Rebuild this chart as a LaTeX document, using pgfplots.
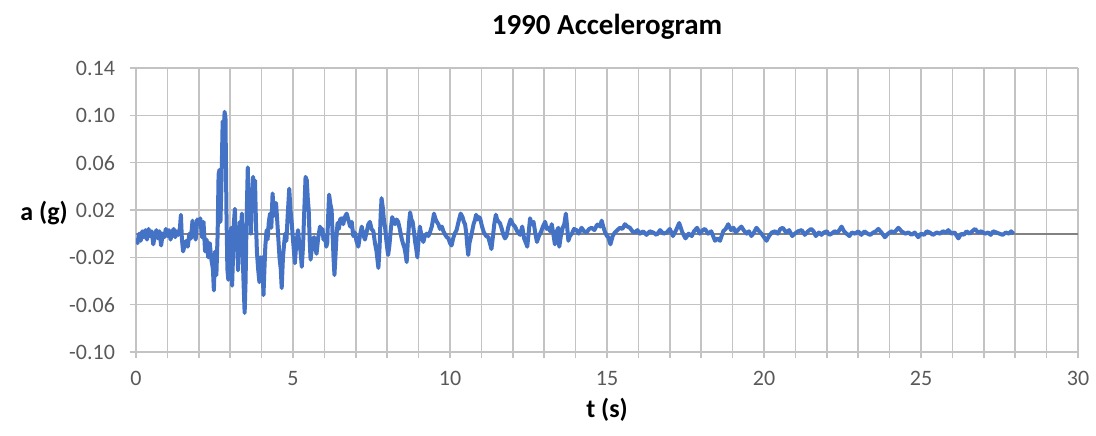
\documentclass[border=0pt]{standalone}
\usepackage{fontspec}
\setmainfont{Carlito}
\usepackage{pgfplots}
\pgfplotsset{compat=1.18}
\definecolor{wave}{RGB}{68,114,196}
\definecolor{gridc}{RGB}{195,195,195}
\definecolor{zeroc}{RGB}{130,130,130}
\definecolor{tickc}{RGB}{89,89,89}

\begin{document}
\begin{tikzpicture}
\begin{axis}[
  at={(0,0)}, anchor=south west,
  width=471pt, height=142pt, scale only axis,
  xmin=0, xmax=30, ymin=-0.10, ymax=0.14,
  xtick={0,5,10,15,20,25,30},
  minor xtick={0,1,...,30},
  ytick={-0.10,-0.06,-0.02,0.02,0.06,0.10,0.14},
  grid=both,
  major grid style={gridc, line width=0.8pt},
  minor grid style={gridc, line width=0.8pt},
  axis lines*=left,
  axis line style={gridc, line width=0.8pt},
  tick align=outside,
  major tick length=3pt, minor tick length=3pt,
  tick style={gridc, line width=0.8pt},
  /pgf/number format/assume math mode=true,
  yticklabel style={/pgf/number format/fixed, /pgf/number format/fixed zerofill,
    /pgf/number format/precision=2, font=\fontsize{11}{13}\selectfont, text=tickc, xshift=-4pt},
  xticklabel style={font=\fontsize{11}{13}\selectfont, text=tickc, yshift=-3pt},
  title={1990 Accelerogram},
  title style={font=\fontsize{14.5}{17}\selectfont\bfseries, at={(axis description cs:0.5,1)}, anchor=center, yshift=14.5pt},
  xlabel={t (s)},
  xlabel style={font=\fontsize{13}{15}\selectfont\bfseries, at={(axis description cs:0.5,0)}, anchor=center, yshift=-29pt},
  ylabel={a (g)},
  ylabel style={font=\fontsize{13}{15}\selectfont\bfseries, rotate=-90, at={(axis description cs:0,0.489)}, anchor=center, xshift=-46pt},
]
\addplot[zeroc, line width=0.9pt, forget plot] coordinates {(0,0) (30,0)};
\addplot[wave, line width=2pt, line join=round] coordinates {
(0.00,-0.004) (0.05,-0.008) (0.10,0.000) (0.15,-0.006) (0.20,0.002) (0.25,-0.003)
(0.30,0.003) (0.35,-0.005) (0.40,0.004) (0.45,-0.002) (0.50,0.002) (0.55,-0.009)
(0.60,-0.002) (0.65,0.003) (0.70,-0.004) (0.75,0.002) (0.80,-0.010) (0.85,0.000)
(0.90,-0.003) (0.95,0.004) (1.00,-0.002) (1.05,0.003) (1.10,-0.005) (1.15,0.001)
(1.20,0.004) (1.25,-0.003) (1.30,0.002) (1.35,-0.001) (1.40,0.005) (1.43,0.016)
(1.46,-0.004) (1.50,-0.015) (1.55,-0.010) (1.60,-0.006) (1.65,-0.011) (1.70,0.000)
(1.75,-0.004) (1.80,0.011) (1.85,0.002) (1.90,-0.005) (1.95,0.012) (2.00,0.008)
(2.05,0.013) (2.10,-0.003) (2.15,0.010) (2.20,-0.015) (2.25,-0.005) (2.30,-0.020)
(2.35,-0.008) (2.40,-0.022) (2.45,-0.030) (2.48,-0.048) (2.52,-0.015) (2.56,-0.035)
(2.60,0.000) (2.63,0.050) (2.66,0.054) (2.69,0.010) (2.72,0.040) (2.76,0.095)
(2.79,0.060) (2.82,0.103) (2.85,0.098) (2.88,0.020) (2.91,-0.030) (2.94,-0.039)
(2.97,-0.010) (3.00,-0.030) (3.03,0.005) (3.06,-0.044) (3.09,-0.020) (3.12,0.010)
(3.15,0.021) (3.18,-0.010) (3.21,0.005) (3.25,-0.031) (3.28,-0.005) (3.31,0.010)
(3.34,-0.010) (3.37,0.017) (3.40,-0.020) (3.43,-0.045) (3.46,-0.067) (3.49,-0.040)
(3.52,0.010) (3.56,0.056) (3.59,0.020) (3.63,0.037) (3.66,0.000) (3.69,0.030)
(3.73,0.048) (3.76,0.020) (3.79,0.045) (3.82,0.010) (3.85,-0.015) (3.89,-0.030)
(3.93,-0.041) (3.96,-0.020) (3.99,-0.035) (4.02,-0.020) (4.06,-0.052) (4.09,-0.030)
(4.12,-0.010) (4.16,0.003) (4.19,-0.005) (4.23,0.010) (4.27,0.017) (4.31,0.005)
(4.35,0.034) (4.39,0.015) (4.43,0.020) (4.46,0.026) (4.50,0.010) (4.53,-0.003)
(4.57,-0.020) (4.61,-0.030) (4.64,-0.046) (4.68,-0.020) (4.72,-0.008) (4.75,0.000)
(4.79,-0.006) (4.83,0.015) (4.88,0.038) (4.92,0.020) (4.96,0.009) (5.00,-0.005)
(5.03,-0.015) (5.06,-0.025) (5.10,-0.010) (5.16,0.003) (5.20,-0.008) (5.24,-0.015)
(5.28,-0.028) (5.32,-0.010) (5.36,0.020) (5.40,0.048) (5.44,0.045) (5.47,0.030)
(5.50,0.020) (5.53,-0.005) (5.56,-0.022) (5.60,-0.012) (5.64,-0.005) (5.67,-0.003)
(5.71,-0.012) (5.75,-0.017) (5.80,-0.004) (5.86,0.006) (5.90,0.000) (5.94,0.004)
(5.97,-0.005) (6.02,-0.002) (6.06,-0.011) (6.09,-0.008) (6.12,0.015) (6.15,0.033)
(6.19,0.025) (6.23,0.020) (6.26,0.000) (6.29,-0.020) (6.32,-0.035) (6.36,-0.015)
(6.39,0.000) (6.42,0.009) (6.46,0.004) (6.50,0.012) (6.55,0.013) (6.60,0.008)
(6.65,0.014) (6.71,0.017) (6.76,0.012) (6.82,0.006) (6.87,0.010) (6.92,-0.002)
(6.97,0.001) (7.02,-0.006) (7.08,-0.011) (7.13,-0.002) (7.19,0.006) (7.24,-0.001)
(7.29,-0.005) (7.35,0.002) (7.40,0.008) (7.45,0.010) (7.50,0.004) (7.56,0.002)
(7.61,-0.008) (7.66,-0.015) (7.72,-0.029) (7.76,-0.010) (7.79,0.015) (7.82,0.030)
(7.86,0.022) (7.90,0.010) (7.93,0.006) (7.97,-0.005) (8.00,-0.012) (8.03,-0.018)
(8.07,-0.010) (8.12,0.005) (8.16,0.014) (8.20,0.011) (8.25,0.008) (8.30,0.012)
(8.35,0.010) (8.40,0.004) (8.46,-0.004) (8.50,-0.008) (8.55,-0.012) (8.59,-0.018)
(8.62,-0.024) (8.66,-0.005) (8.70,0.010) (8.73,0.018) (8.77,0.012) (8.81,0.010)
(8.85,0.002) (8.89,-0.007) (8.92,-0.012) (8.96,-0.020) (9.00,-0.005) (9.04,0.006)
(9.08,0.000) (9.12,-0.004) (9.15,-0.007) (9.20,-0.002) (9.26,0.000) (9.31,-0.002)
(9.36,0.001) (9.42,0.006) (9.46,0.012) (9.49,0.017) (9.53,0.013) (9.58,0.010)
(9.63,0.008) (9.68,0.004) (9.74,0.006) (9.79,0.002) (9.85,-0.001) (9.90,-0.003)
(9.95,-0.004) (10.00,-0.008) (10.05,-0.010) (10.10,-0.004) (10.15,0.000) (10.21,0.003)
(10.27,0.010) (10.34,0.017) (10.40,0.014) (10.44,0.010) (10.48,0.008) (10.52,0.000)
(10.55,-0.010) (10.58,-0.018) (10.62,-0.008) (10.69,0.000) (10.75,0.008) (10.80,0.012)
(10.83,0.016) (10.88,0.012) (10.92,0.014) (10.96,0.013) (11.02,0.006) (11.08,0.001)
(11.15,-0.002) (11.22,-0.003) (11.27,-0.008) (11.32,-0.013) (11.36,-0.004) (11.41,0.008)
(11.46,0.016) (11.50,0.012) (11.55,0.010) (11.59,0.009) (11.65,0.004) (11.70,-0.001)
(11.75,-0.004) (11.80,-0.002) (11.85,0.005) (11.93,0.012) (12.00,0.008) (12.07,0.006)
(12.14,0.002) (12.23,-0.001) (12.30,0.006) (12.36,-0.004) (12.42,-0.008) (12.46,-0.011)
(12.51,0.002) (12.55,0.013) (12.60,0.008) (12.66,0.010) (12.72,0.000) (12.77,-0.007)
(12.83,-0.002) (12.89,0.001) (12.96,0.006) (13.03,0.010) (13.08,0.004) (13.13,0.005)
(13.19,0.002) (13.24,0.008) (13.29,0.000) (13.34,-0.009) (13.40,0.002) (13.45,0.005)
(13.48,-0.011) (13.53,-0.002) (13.59,0.005) (13.64,0.008) (13.69,0.017) (13.73,0.006)
(13.77,-0.006) (13.82,-0.002) (13.88,0.000) (13.95,0.004) (14.03,0.003) (14.10,0.000)
(14.19,0.005) (14.27,0.002) (14.35,0.001) (14.43,0.004) (14.51,0.005) (14.60,0.003)
(14.67,0.007) (14.72,0.008) (14.78,0.006) (14.83,0.011) (14.88,0.006) (14.94,0.001)
(15.00,-0.002) (15.04,-0.003) (15.11,-0.009) (15.18,-0.002) (15.25,0.001) (15.33,0.003)
(15.41,0.005) (15.49,0.004) (15.57,0.008) (15.65,0.006) (15.73,0.005) (15.81,0.002)
(15.89,0.001) (15.97,0.003) (16.05,0.000) (16.15,0.002) (16.26,-0.001) (16.36,0.002)
(16.47,0.001) (16.58,-0.001) (16.69,0.003) (16.80,0.000) (16.90,0.001) (17.00,0.004)
(17.10,-0.002) (17.20,0.003) (17.30,0.009) (17.40,0.001) (17.50,-0.004) (17.60,0.000)
(17.70,-0.002) (17.77,0.002) (17.87,0.005) (17.95,0.000) (18.05,0.003) (18.12,0.004)
(18.22,0.000) (18.32,0.002) (18.44,-0.006) (18.52,-0.004) (18.60,-0.006) (18.70,0.002)
(18.78,0.004) (18.86,0.008) (18.95,0.003) (19.03,0.005) (19.10,0.001) (19.20,0.004)
(19.28,0.006) (19.35,0.003) (19.45,0.000) (19.52,0.002) (19.60,-0.002) (19.68,0.001)
(19.76,0.005) (19.85,0.002) (19.92,0.000) (20.00,-0.003) (20.08,-0.006) (20.16,-0.002)
(20.25,0.001) (20.35,0.002) (20.44,0.000) (20.52,0.004) (20.60,0.005) (20.70,0.001)
(20.80,0.003) (20.90,-0.002) (20.98,0.000) (21.08,0.002) (21.20,0.003) (21.30,-0.001)
(21.40,0.002) (21.50,0.004) (21.58,0.002) (21.65,-0.002) (21.75,0.001) (21.83,-0.001)
(21.90,0.001) (22.00,0.002) (22.08,-0.001) (22.15,0.000) (22.25,0.002) (22.35,0.001)
(22.47,0.006) (22.55,0.002) (22.63,0.000) (22.72,-0.002) (22.80,0.001) (22.90,0.000)
(23.00,0.002) (23.10,-0.001) (23.20,0.002) (23.30,0.000) (23.38,-0.001) (23.48,0.001)
(23.56,0.002) (23.64,0.004) (23.74,0.001) (23.85,-0.003) (23.95,0.000) (24.05,0.002)
(24.15,0.001) (24.28,0.005) (24.38,0.002) (24.50,0.000) (24.60,0.001) (24.70,-0.001)
(24.80,0.001) (24.91,-0.003) (25.00,0.000) (25.10,-0.001) (25.18,0.002) (25.28,0.001)
(25.38,-0.001) (25.50,0.001) (25.60,0.000) (25.70,0.002) (25.80,0.001) (25.87,0.003)
(25.97,0.000) (26.07,0.001) (26.19,-0.004) (26.28,0.000) (26.36,-0.001) (26.45,0.002)
(26.55,0.000) (26.63,0.002) (26.72,0.004) (26.82,0.001) (26.92,0.002) (27.04,0.000)
(27.14,0.001) (27.22,-0.001) (27.30,0.002) (27.40,0.001) (27.50,0.000) (27.60,-0.001)
(27.70,0.001) (27.80,0.000) (27.87,0.002) (27.95,0.000)
};
\end{axis}
\path (-68pt,-41.5pt) rectangle (480pt,176pt);
\end{tikzpicture}
\end{document}
